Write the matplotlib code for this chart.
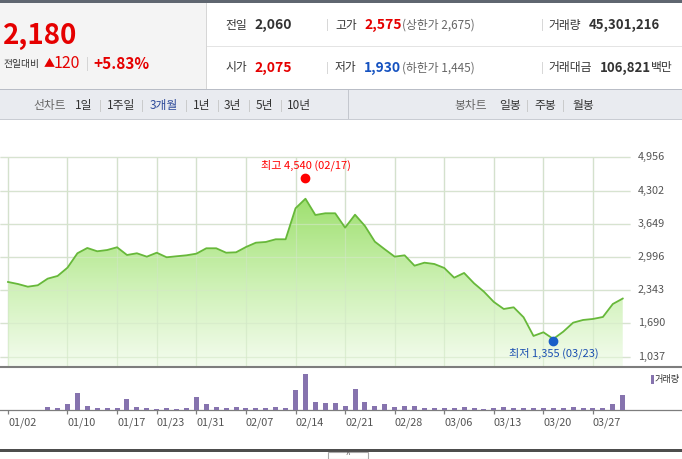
"""Recreate the 3-month line chart with volume bars and quote header."""

import matplotlib

matplotlib.use("Agg")
import matplotlib.pyplot as plt
import numpy as np
from matplotlib.colors import LinearSegmentedColormap
from matplotlib.patches import PathPatch, Rectangle

plt.rcParams["font.family"] = ["Noto Sans CJK KR", "DejaVu Sans"]

# ---- data -------------------------------------------------------------
DATES = [
    "01/02", "01/03", "01/06", "01/07", "01/08", "01/09", "01/10", "01/13", "01/14", "01/15",
    "01/16", "01/17", "01/20", "01/21", "01/22", "01/23", "01/28", "01/29", "01/30", "01/31",
    "02/03", "02/04", "02/05", "02/06", "02/07", "02/10", "02/11", "02/12", "02/13", "02/14",
    "02/17", "02/18", "02/19", "02/20", "02/21", "02/24", "02/25", "02/26", "02/27", "02/28",
    "03/02", "03/03", "03/04", "03/05", "03/06", "03/09", "03/10", "03/11", "03/12", "03/13",
    "03/16", "03/17", "03/18", "03/19", "03/20", "03/23", "03/24", "03/25", "03/26", "03/27",
    "03/30", "03/31", "04/01",
]
CLOSE = [
    2506, 2466, 2413, 2441, 2571, 2624, 2787, 3070, 3174, 3109,
    3134, 3188, 3036, 3070, 3003, 3081, 2991, 3011, 3030, 3062,
    3168, 3168, 3081, 3089, 3193, 3278, 3292, 3345, 3345, 3954,
    4142, 3822, 3856, 3856, 3573, 3828, 3606, 3298, 3148, 3003,
    3030, 2826, 2885, 2859, 2781, 2590, 2683, 2480, 2315, 2113,
    1975, 2008, 1812, 1445, 1517, 1386, 1529, 1706, 1759, 1779,
    1818, 2073, 2180,
]
VOLUME = [
    1.0e6, 0.9e6, 0.8e6, 1.0e6, 10.2e6, 4.4e6, 16.1e6, 51.1e6, 13.1e6, 7.3e6,
    4.4e6, 7.3e6, 33.6e6, 10.2e6, 4.4e6, 4.3e6, 4.4e6, 4.3e6, 4.5e6, 39.4e6,
    16.1e6, 10.2e6, 7.3e6, 7.4e6, 4.5e6, 7.3e6, 4.4e6, 7.4e6, 4.4e6, 57.0e6,
    105.0e6, 24.8e6, 19.0e6, 21.9e6, 13.1e6, 62.8e6, 24.8e6, 13.1e6, 16.1e6, 10.2e6,
    10.3e6, 13.1e6, 7.3e6, 7.2e6, 4.5e6, 4.4e6, 10.2e6, 4.4e6, 4.3e6, 7.3e6,
    7.4e6, 7.3e6, 4.4e6, 7.2e6, 4.5e6, 4.5e6, 4.4e6, 10.2e6, 7.3e6, 4.4e6,
    4.5e6, 16.1e6, 45301216,
]
TICK_DATES = ["01/02", "01/10", "01/17", "01/23", "01/31", "02/07", "02/14",
              "02/21", "02/28", "03/06", "03/13", "03/20", "03/27"]
PRICE_TICKS = [1037, 1690, 2343, 2996, 3649, 4302, 4956]
HIGH = ("02/17", 4540)
LOW = ("03/23", 1355)

# ---- colours ----------------------------------------------------------
RED = "#e50000"
BLUE = "#1552c0"
DARK = "#333333"
GRAY = "#666666"
GRID = "#dcdcdc"
LINE_GREEN = "#67b83a"
BAR_PURPLE = "#8673ae"

W, H = 682, 459


def fx(x):
    return x / W


def fy(y):
    return 1 - y / H


fig = plt.figure(figsize=(W / 100, H / 100), dpi=100)
fig.patch.set_facecolor("white")


def rect(x0, y0, x1, y1, color, **kw):
    fig.patches.append(Rectangle((fx(x0), fy(y1)), fx(x1) - fx(x0), fy(y0) - fy(y1),
                                 transform=fig.transFigure, facecolor=color,
                                 edgecolor=kw.pop("edgecolor", "none"), **kw))


def text(x, y, s, size=8.5, color=DARK, weight="normal", ha="left"):
    fig.text(fx(x), fy(y), s, fontsize=size, color=color, fontweight=weight,
             ha=ha, va="center")


# ---- header -----------------------------------------------------------
rect(0, 0, W, 3, "#5f6670")
rect(0, 3, 206, 89, "#f4f4f4")
rect(206, 3, 207, 89, "#d6d6d6")
rect(207, 46, W, 47, "#e4e4e4")

text(3, 36, "2,180", size=20, color=RED, weight="bold")
text(4, 64, "전일대비", size=7, color=DARK)
text(44, 64, "▲", size=8, color=RED)
text(54, 64, "120", size=11.5, color=RED)
text(86, 64, "|", size=9, color="#cccccc")
text(93, 64, "+5.83%", size=11, color=RED, weight="bold")

rows = [
    (25, [("전일", "2,060", DARK, None), ("고가", "2,575", RED, "(상한가 2,675)"),
          ("거래량", "45,301,216", DARK, None)]),
    (68, [("시가", "2,075", RED, None), ("저가", "1,930", BLUE, "(하한가 1,445)"),
          ("거래대금", "106,821", DARK, "백만")]),
]
for y, items in rows:
    (l1, v1, c1, _), (l2, v2, c2, x2), (l3, v3, c3, x3) = items
    text(225, y, l1, size=8.5)
    text(254, y, v1, size=10, color=c1, weight="bold")
    text(326, y, "|", size=8, color="#cccccc")
    text(335, y, l2, size=8.5)
    text(364, y, v2, size=10, color=c2, weight="bold")
    text(402, y, x2, size=8.5, color=GRAY)
    text(541, y, "|", size=8, color="#cccccc")
    text(548, y, l3, size=8.5)
    if x3 is None:
        text(589, y, v3, size=9.5, color=c3, weight="bold")
    else:
        text(600, y, v3, size=9.5, color=c3, weight="bold")
        text(651, y, x3, size=8.5, color=DARK)

# nav bar
rect(0, 89, W, 120, "#e9ebf0")
rect(0, 89, W, 90, "#b9bdc6")
rect(0, 119, W, 120, "#c9ccd3")
rect(348, 90, 349, 119, "#c4c7ce")
text(33, 106, "선차트", size=8.5, color=GRAY)
nav_left = [("1일", 75), ("1주일", 107), ("3개월", 150), ("1년", 193), ("3년", 224),
            ("5년", 256), ("10년", 287)]
for s, x in nav_left:
    text(x, 106, s, size=8.5, color="#2e4b9b" if s == "3개월" else DARK)
for x in (99, 141, 185, 217, 248, 280):
    text(x, 106, "|", size=7.5, color="#b8b8b8")
text(454, 106, "봉차트", size=8.5, color=GRAY)
for s, x in (("일봉", 499), ("주봉", 534), ("월봉", 572)):
    text(x, 106, s, size=8.5)
for x in (526, 562):
    text(x, 106, "|", size=7.5, color="#b8b8b8")

# ---- price panel ------------------------------------------------------
X0_PX, STEP_PX = 8.0, 9.915
y_top_px, y_bot_px = 157.3, 356.7
upp = (PRICE_TICKS[-1] - PRICE_TICKS[0]) / (y_bot_px - y_top_px)
P_TOP, P_BOT = 122.0, 366.7
ylim = (PRICE_TICKS[0] - (P_BOT - y_bot_px) * upp, PRICE_TICKS[-1] + (y_top_px - P_TOP) * upp)
xlim = (-X0_PX / STEP_PX, (W - X0_PX) / STEP_PX)

idx = np.arange(len(CLOSE))
close = np.array(CLOSE, dtype=float)
tick_idx = [DATES.index(d) for d in TICK_DATES]

ax = fig.add_axes([0, fy(P_BOT), 1, (P_BOT - P_TOP) / H])
ax.set_xlim(*xlim)
ax.set_ylim(*ylim)
ax.axis("off")

grid_right = (630 - X0_PX) / STEP_PX
ax.hlines(PRICE_TICKS, xlim[0], grid_right, color=GRID, lw=0.9, zorder=0)
ax.vlines(tick_idx, ylim[0], PRICE_TICKS[-1], color=GRID, lw=0.9, zorder=0)

cmap = LinearSegmentedColormap.from_list("fill", ["#f4fcef", "#cdf1b4", "#9fe070"])
grad = np.linspace(0, 1, 256).reshape(-1, 1)
im = ax.imshow(grad, extent=[idx[0], idx[-1], ylim[0], close.max()], origin="lower",
               aspect="auto", cmap=cmap, zorder=1, interpolation="bilinear")
poly = ax.fill_between(idx, close, ylim[0], facecolor="none", edgecolor="none")
clip = PathPatch(poly.get_paths()[0], transform=ax.transData, facecolor="none",
                 edgecolor="none")
ax.add_patch(clip)
im.set_clip_path(clip)
ax.vlines(tick_idx, ylim[0], PRICE_TICKS[-1], color="#d0e6c4", lw=0.9, zorder=1.5, alpha=0.6)
ax.hlines(PRICE_TICKS, xlim[0], grid_right, color="#d4e8c8", lw=0.9, zorder=1.5, alpha=0.6)
ax.plot(idx, close, color=LINE_GREEN, lw=1.3, zorder=3)

for t in PRICE_TICKS:
    ax.text(638 / W, t, f"{t:,}", transform=ax.get_yaxis_transform(), fontsize=7.8,
            color="#555555", ha="left", va="center")

hi_i = DATES.index(HIGH[0])
ax.plot(hi_i, HIGH[1], "o", color="#ff0000", ms=6, zorder=4)
ax.annotate(f"최고 {HIGH[1]:,} ({HIGH[0]})", (hi_i, HIGH[1]), xytext=(0, 9.7),
            textcoords="offset points", ha="center", va="center", fontsize=8, color="#ff0000")
lo_i = DATES.index(LOW[0])
ax.plot(lo_i, LOW[1], "o", color="#1a5fc8", ms=6, zorder=4)
ax.annotate(f"최저 {LOW[1]:,} ({LOW[0]})", (lo_i, LOW[1]), xytext=(0, -9.1),
            textcoords="offset points", ha="center", va="center", fontsize=8, color="#1a4fb0")

# ---- volume panel -----------------------------------------------------
V_TOP, V_BOT = 366.7, 410.0
vax = fig.add_axes([0, fy(V_BOT), 1, (V_BOT - V_TOP) / H])
vax.patch.set_visible(False)
vax.set_xlim(*xlim)
px_per_share = 15.5 / VOLUME[-1]
vax.set_ylim(0, (V_BOT - V_TOP) / px_per_share)
vax.bar(idx, VOLUME, width=5 / STEP_PX, color=BAR_PURPLE, zorder=3)
for side in ("left", "right"):
    vax.spines[side].set_visible(False)
vax.spines["top"].set_color("#7d7d7d")
vax.spines["top"].set_linewidth(1.5)
vax.spines["bottom"].set_color("#7d7d7d")
vax.spines["bottom"].set_linewidth(0.9)
vax.spines["bottom"].set_zorder(2)
vax.set_yticks([])
vax.set_xticks(tick_idx)
vax.set_xticklabels(TICK_DATES, fontsize=7.8, color="#555555", ha="left")
vax.tick_params(axis="x", length=3.2, width=0.9, color="#7d7d7d", pad=2)

rect(651, 375, 654, 384, BAR_PURPLE)
text(655, 379.5, "거래량", size=6.6, color=DARK)

# ---- bottom -----------------------------------------------------------
rect(0, 449, W, 451.5, "#4d4d4d")
rect(328, 452, 368, H, "white", edgecolor="#a8a8a8", linewidth=0.8)
text(348, 455.5, "^", size=6, color="#555555", ha="center")

fig.savefig("out.png", dpi=100)
